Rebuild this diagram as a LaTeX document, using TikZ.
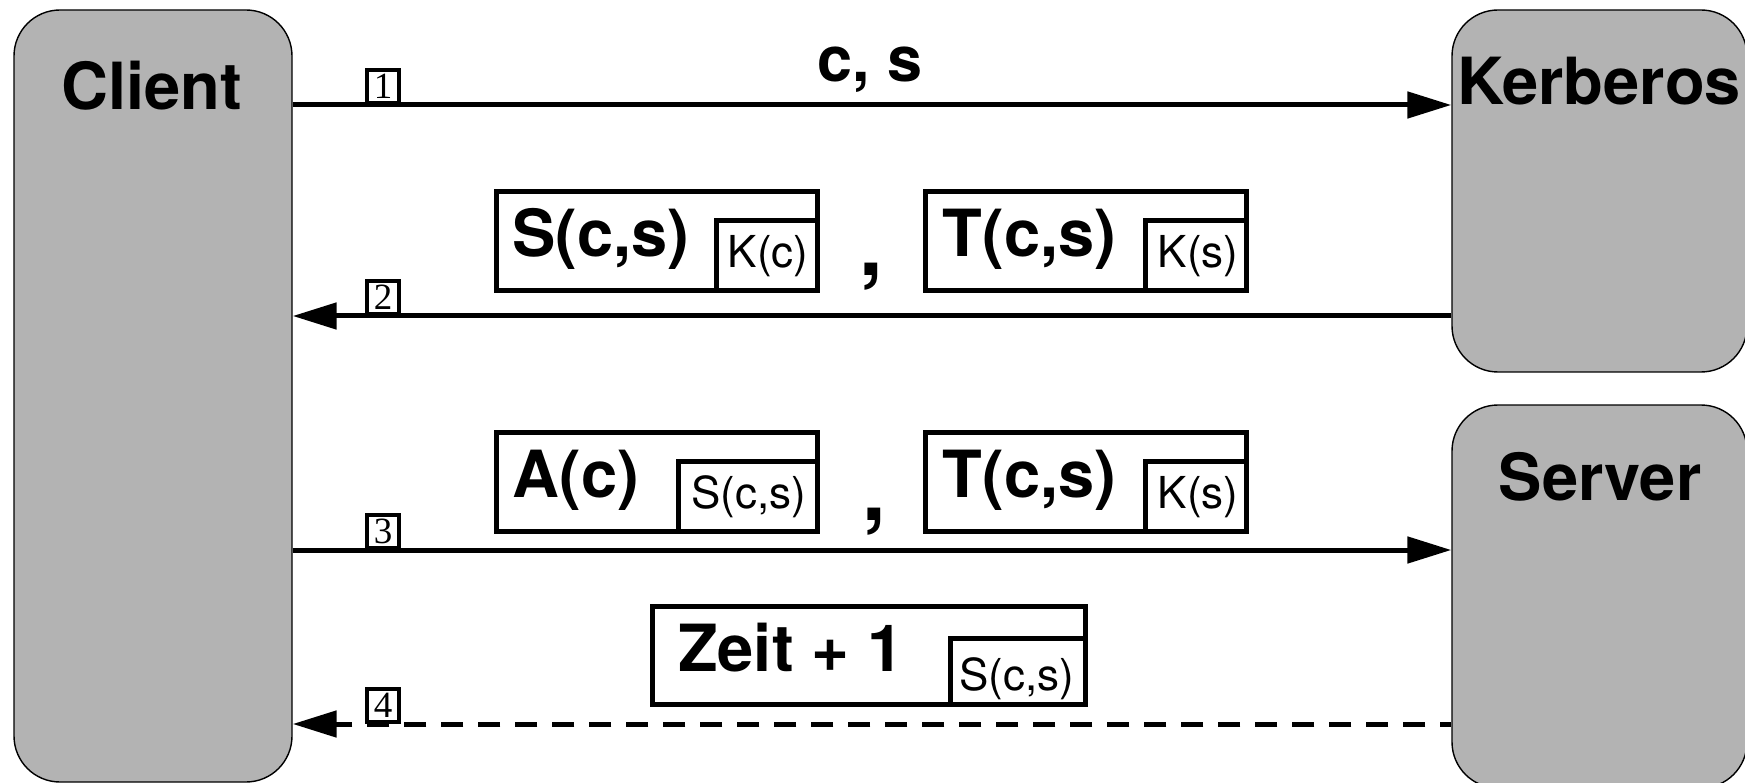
\documentclass[tikz,border=0pt]{standalone}
\usepackage{fontspec}
\setmainfont{TeX Gyre Heros}
\newfontfamily\numfont{Liberation Serif}
\usetikzlibrary{arrows.meta}
\definecolor{boxgray}{RGB}{179,179,179}
\begin{document}
\begin{tikzpicture}[x=1pt,y=-1pt,
  party/.style={draw=black, line width=1.4pt, fill=boxgray, rounded corners=46pt, inner sep=0pt},
  bigtxt/.style={font=\fontsize{65}{78}\selectfont\bfseries, inner sep=0pt, anchor=base},
  cstxt/.style={font=\fontsize{63}{74}\selectfont\bfseries, inner sep=0pt, anchor=base},
  commatxt/.style={font=\fontsize{85}{100}\selectfont\bfseries, inner sep=0pt, anchor=base},
  smalltxt/.style={font=\fontsize{44}{52}\selectfont, inner sep=0pt, anchor=base},
  msgbox/.style={draw, line width=5pt, inner sep=0pt},
  keybox/.style={draw, line width=5pt, inner sep=0pt, anchor=south east},
  numbox/.style={draw, line width=4pt, fill=white, inner sep=0pt, minimum width=32pt, minimum height=33pt, anchor=south, font=\numfont\fontsize{37}{37}\selectfont},
  msg/.style={line width=5pt, -{Triangle[length=44pt,width=26pt]}},
]
\useasboundingbox (0,0) rectangle (1745,783);

% parties
\node[party, minimum width=278pt, minimum height=772pt] (client) at (153,396) {};
\node[bigtxt] (clientlbl) at (152,110) {Client};
\node[party, minimum width=295pt, minimum height=362pt] (kerb) at (1599.5,191) {};
\node[bigtxt] (kerblbl) at (1599,105) {Kerberos};
\node[party, minimum width=295pt, minimum height=383pt] (server) at (1599.5,596.5) {};
\node[bigtxt] (serverlbl) at (1600,500) {Server};

% line levels
\coordinate (y1) at (383,105);
\coordinate (y2) at (383,316);
\coordinate (y3) at (383,550);
\coordinate (y4) at (383,724);

% connectors
\draw[msg] (client.east |- y1) -- (kerb.west |- y1);
\draw[msg] (kerb.west |- y2) -- (client.east |- y2);
\draw[msg] (client.east |- y3) -- (server.west |- y3);
\draw[msg, dash pattern=on 22pt off 15pt, dash phase=11pt] (server.west |- y4) -- (client.east |- y4);

% step numbers
\node[numbox] (n1) at (y1) {1};
\node[numbox] (n2) at (y2) {2};
\node[numbox] (n3) at (y3) {3};
\node[numbox] (n4) at (y4) {4};

% message 1
\node[cstxt] (cs) at (870,82) {c, s};

% message 2
\node[msgbox, minimum width=321pt, minimum height=99pt] (m2a) at (656.5,241.5) {};
\node[keybox, minimum width=101pt, minimum height=70pt] (m2ak) at (m2a.south east) {};
\node[bigtxt] (m2at) at (601,257) {S(c,s)};
\node[smalltxt] (m2akt) at (768,268) {K(c)};
\node[commatxt] (comma2) at (871,276) {,};
\node[msgbox, minimum width=321pt, minimum height=99pt] (m2b) at (1086,241.5) {};
\node[keybox, minimum width=101pt, minimum height=70pt] (m2bk) at (m2b.south east) {};
\node[bigtxt] (m2bt) at (1029.5,257) {T(c,s)};
\node[smalltxt] (m2bkt) at (1198,268) {K(s)};

% message 3
\node[msgbox, minimum width=321pt, minimum height=99pt] (m3a) at (656.5,481.5) {};
\node[keybox, minimum width=139pt, minimum height=70pt] (m3ak) at (m3a.south east) {};
\node[bigtxt] (m3at) at (576,497) {A(c)};
\node[smalltxt] (m3akt) at (748.5,508) {S(c,s)};
\node[commatxt] (comma3) at (874,520) {,};
\node[msgbox, minimum width=321pt, minimum height=99pt] (m3b) at (1086,481.5) {};
\node[keybox, minimum width=101pt, minimum height=70pt] (m3bk) at (m3b.south east) {};
\node[bigtxt] (m3bt) at (1029.5,497) {T(c,s)};
\node[smalltxt] (m3bkt) at (1198,508) {K(s)};

% message 4
\node[msgbox, minimum width=433pt, minimum height=98pt] (m4) at (868.5,655) {};
\node[keybox, minimum width=135pt, minimum height=66pt] (m4k) at (m4.south east) {};
\node[bigtxt] (m4t) at (791,671) {Zeit + 1};
\node[smalltxt] (m4kt) at (1016.5,690) {S(c,s)};
\end{tikzpicture}
\end{document}
